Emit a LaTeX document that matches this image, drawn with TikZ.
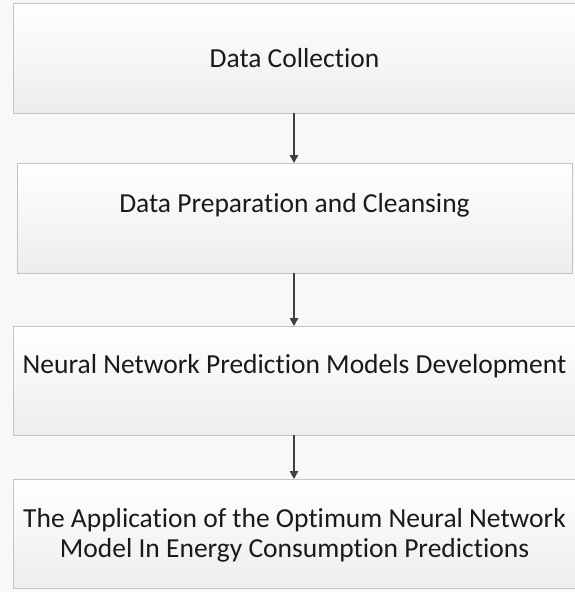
\documentclass[tikz,border=0pt]{standalone}
\usepackage{fontspec}
\setmainfont{Carlito}[Ligatures={NoCommon}]
\usetikzlibrary{arrows.meta,shadows}
\definecolor{bordergray}{HTML}{C4C4C4}
\definecolor{boxbottom}{HTML}{EDEDED}
\definecolor{bgcol}{HTML}{F8F8F8}
\definecolor{arrowcol}{HTML}{404040}
\definecolor{txtcol}{HTML}{1A1A1A}
\tikzset{
  stagebox/.style={rectangle, draw=bordergray, line width=1pt, inner sep=0pt, outer sep=0pt,
    top color=white, bottom color=boxbottom,
    drop shadow={shadow xshift=1pt, shadow yshift=-1.2pt, opacity=0.25}},
  lbl/.style={text=txtcol, inner sep=0pt, anchor=base, font=\fontsize{27.5}{30}\selectfont},
  flow/.style={draw=arrowcol, line width=1.2pt, -{Triangle[length=8pt,width=8.5pt]}}
}
\begin{document}
\begin{tikzpicture}[x=1pt,y=-1pt]
\useasboundingbox (0,0) rectangle (575,592);
\fill[bgcol] (0,0) rectangle (575,592);
\node[stagebox, minimum width=563pt, minimum height=110pt] (b1) at (294.5,58.2) {};
\node[stagebox, minimum width=555pt, minimum height=110pt] (b2) at (294.5,218) {};
\node[stagebox, minimum width=563pt, minimum height=109pt] (b3) at (294.5,380.5) {};
\node[stagebox, minimum width=563pt, minimum height=109pt] (b4) at (294.5,533.5) {};
\node[lbl] (t1) at (294.5,67) {Data Collection};
\node[lbl] (t2) at (294.5,212) {Data Preparation and Cleansing};
\node[lbl] (t3) at (294.5,373) {Neural Network Prediction Models Development};
\node[lbl] (t4a) at (294.5,527) {The Application of the Optimum Neural Network};
\node[lbl] (t4b) at (294.5,557) {Model In Energy Consumption Predictions};
\draw[flow] (b1.south -| 294,0) -- (b2.north -| 294,0);
\draw[flow] (b2.south -| 294,0) -- (b3.north -| 294,0);
\draw[flow] (b3.south -| 294,0) -- (b4.north -| 294,0);
\end{tikzpicture}
\end{document}
